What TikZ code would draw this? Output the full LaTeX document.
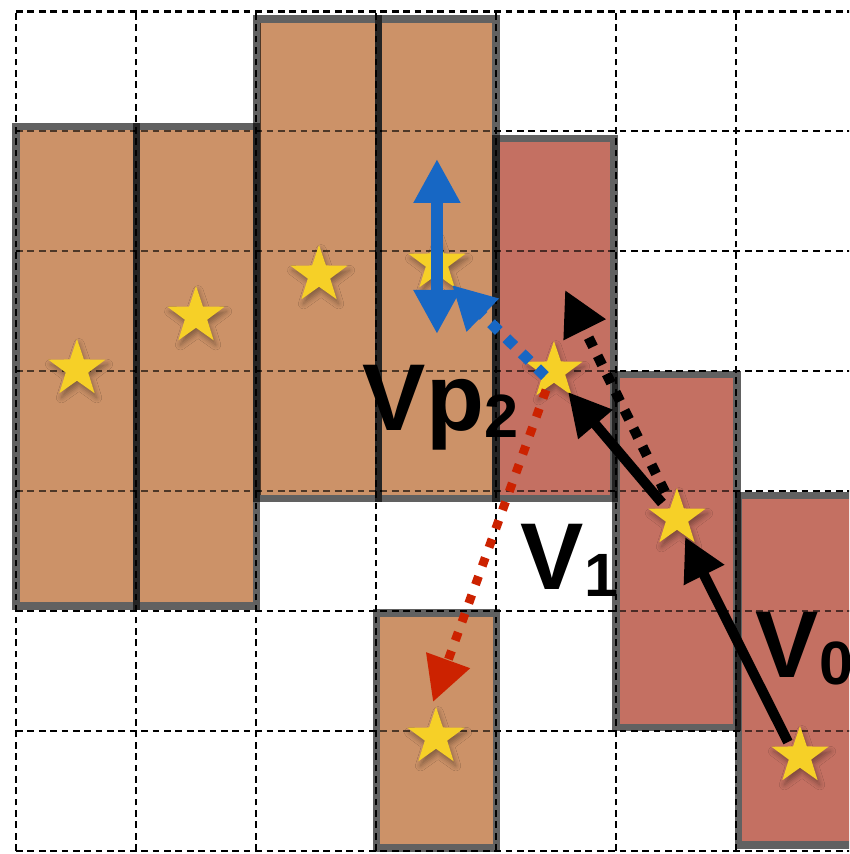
\documentclass[tikz,border=0pt]{standalone}
\usepackage{fontspec}
\setmainfont{Liberation Sans}
\usetikzlibrary{shapes.geometric,arrows.meta,shadows.blur}
\definecolor{barorange}{HTML}{CC9268}
\definecolor{barred}{HTML}{C47062}
\definecolor{starY}{HTML}{F6D027}
\definecolor{arrblue}{HTML}{1767C4}
\definecolor{arrred}{HTML}{CC2200}
\tikzset{
  gridline/.style={black, line width=0.7pt, dash pattern=on 1.6pt off 1.1pt},
  barborder/.style={black, opacity=0.62, line width=1.85pt},
  starnode/.style={star, star points=5, star point ratio=2.55, minimum size=0.5cm,
    inner sep=0pt, fill=starY, draw=none,
    blur shadow={shadow xshift=0.5pt, shadow yshift=-1.1pt, shadow blur radius=1.2pt, shadow opacity=35}},
  solidarr/.style={black, line width=2.4pt, -{Triangle[length=0.355cm,width=0.355cm]}},
  dotarr/.style={black, line width=2.4pt, dash pattern=on 2.4pt off 2.4pt, -{Triangle[length=0.37cm,width=0.37cm]}},
  bluedouble/.style={arrblue, line width=2.8pt, {Triangle[length=0.367cm,width=0.367cm]}-{Triangle[length=0.367cm,width=0.367cm]}},
  bluedot/.style={arrblue, line width=2.6pt, dash pattern=on 2.6pt off 2.5pt, -{Triangle[length=0.36cm,width=0.36cm]}},
  reddot/.style={arrred, line width=2.1pt, dash pattern=on 2.1pt off 2.6pt, -{Triangle[length=0.37cm,width=0.37cm]}},
  lbl/.style={inner sep=0pt, anchor=base west, font=\bfseries\fontsize{22.5}{27}\selectfont},
}
\newcommand\subdigit[1]{\raisebox{-1.6pt}{\fontsize{14.5}{17}\selectfont #1}}
\begin{document}
\begin{tikzpicture}
\useasboundingbox (-0.1333,-0.025) rectangle (6.9417,7.0917);
\clip (-0.1333,-0.025) rectangle (6.9417,7.0917);
\fill[white] (-0.1333,-0.025) rectangle (6.9417,7.0917);
% bar fills
\foreach \xa/\ya/\xb/\yb/\c in {
  0/2.042/1.004/6.0375/barorange,
  1.004/2.042/2.004/6.0375/barorange,
  2.005/2.9375/3.02/6.933/barorange,
  3.02/2.9375/4.0/6.933/barorange,
  4.0/2.9375/4.983/5.9375/barred,
  5.0/1.029/6.008/3.971/barred,
  6.02/0.05/7.3/2.9625/barred,
  3.004/0.025/4.004/1.983/barorange}{
  \fill[\c] (\xa+0.032,\ya+0.032) rectangle (\xb-0.032,\yb-0.032);
}
% grid
\draw[gridline] (0,0) grid (7.5,7);
% refill to tint grid inside bars, then borders
\foreach \xa/\ya/\xb/\yb/\c in {
  0/2.042/1.004/6.0375/barorange,
  1.004/2.042/2.004/6.0375/barorange,
  2.005/2.9375/3.02/6.933/barorange,
  3.02/2.9375/4.0/6.933/barorange,
  4.0/2.9375/4.983/5.9375/barred,
  5.0/1.029/6.008/3.971/barred,
  6.02/0.05/7.3/2.9625/barred,
  3.004/0.025/4.004/1.983/barorange}{
  \fill[\c, opacity=0.38] (\xa+0.032,\ya+0.032) rectangle (\xb-0.032,\yb-0.032);
  \draw[barborder] (\xa,\ya) rectangle (\xb,\yb);
}
% arrow end coordinates
\coordinate (v0a) at (6.433,0.908);
\coordinate (v0b) at (5.575,2.617);
\coordinate (v1a) at (5.383,2.9);
\coordinate (v1b) at (4.6,3.825);
\coordinate (bda) at (5.408,2.992);
\coordinate (bdb) at (4.575,4.675);
\coordinate (bua) at (3.508,4.308);
\coordinate (bub) at (3.508,5.767);
\coordinate (bla) at (4.408,3.958);
\coordinate (blb) at (3.633,4.717);
\coordinate (rda) at (4.417,3.842);
\coordinate (rdb) at (3.475,1.242);
% V0 arrow (under the stars)
\draw[solidarr] (v0a) -- (v0b);
% stars
\node[starnode] (s1) at (0.508,4.017) {};
\node[starnode] (s2) at (1.5,4.458) {};
\node[starnode] (s3) at (2.525,4.8) {};
\node[starnode] (s4) at (3.508,4.9) {};
\node[starnode] (s5) at (4.483,4.0) {};
\node[starnode] (s6) at (5.508,2.775) {};
\node[starnode] (s7) at (6.533,0.792) {};
\node[starnode] (s8) at (3.5,0.95) {};
% arrows
\draw[dotarr] (bda) -- (bdb);
\draw[solidarr] (v1a) -- (v1b);
\draw[reddot] (rda) -- (rdb);
\draw[bluedouble] (bua) -- (bub);
\draw[bluedot] (bla) -- (blb);
% labels
\node[lbl] (lvp) at (2.883,3.5) {Vp\subdigit{2}};
\node[lbl] (lv1) at (4.2,2.175) {V\subdigit{1}};
\node[lbl] (lv0) at (6.158,1.442) {V\subdigit{0}};
\end{tikzpicture}
\end{document}
